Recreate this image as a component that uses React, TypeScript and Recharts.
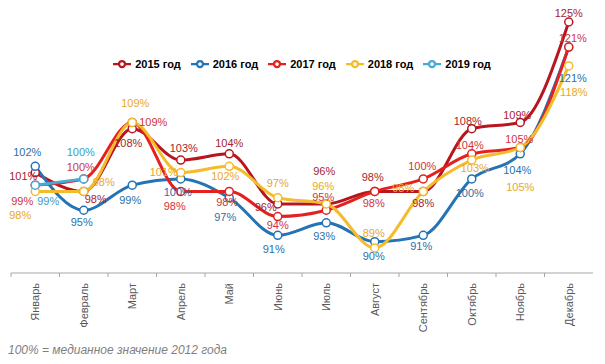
import React from 'react';
import { LineChart, Line, XAxis, YAxis, Legend } from 'recharts';

const months = ['Январь', 'Февраль', 'Март', 'Апрель', 'Май', 'Июнь', 'Июль', 'Август', 'Сентябрь', 'Октябрь', 'Ноябрь', 'Декабрь'];
const y2015 = [101, 98, 108, 103, 104, 96, 96, 98, 98, 108, 109, 125];
const y2016 = [102, 95, 99, 100, 97, 91, 93, 90, 91, 100, 104, 121];
const y2017 = [99, 100, 109, 98, 98, 94, 95, 98, 100, 104, 105, 121];
const y2018 = [98, 98, 109, 101, 102, 97, 96, 89, 98, 103, 105, 118];
const y2019 = [99, 100];

// label nudges [dx, dy] per point, to keep the labels where the original put them
const off2015 = [[-12, 4], [12, 8], [-4, 14], [3, -12], [0, -11], [-12, 3], [-2, -33], [-2, -14], [0, 12], [-4, -8], [-3, -7], [0, -9]];
const off2016 = [[-8, -14], [-2, 12], [-2, 15], [-3, 13], [-4, 19], [-4, 14], [-2, 13], [-1, 15], [-2, 11], [-2, 14], [-3, 16], [4, 31]];
const off2017 = [[-13, 16], [-3, -12], [21, 0], [-6, 15], [-2, 11], [0, 9], [-3, -13], [-1, 12], [-1, -13], [-2, -9], [-1, -8], [4, -9]];
const off2018 = [[-15, 24], [20, -9], [3, -19], [-17, 0], [-4, 10], [0, -15], [-3, -18], [-1, -15], [-20, -3], [3, 8], [0, 40], [5, 26]];
const off2019 = [[13, 16], [-3, -27]];

const data = months.map((m, i) => ({
  month: m,
  y2015: y2015[i],
  y2016: y2016[i],
  y2017: y2017[i],
  y2018: y2018[i],
  y2019: i < y2019.length ? y2019[i] : null,
}));

const W = 597;
const H = 330;
const M = { top: 14, right: 12, left: 3, bottom: 5 };
const band = (W - M.left - M.right) / 12;
const font = "Arial, 'Liberation Sans', sans-serif";

const makeLabel = (offs: number[][], color: string) => (p: any) => {
  if (p.value == null || p.index == null) return null;
  const [dx, dy] = offs[p.index] || [0, -12];
  return (
    <text x={p.x + dx} y={p.y + dy} dy="0.35em" textAnchor="middle" fill={color} fontSize={11} fontFamily={font}>
      {p.value}%
    </text>
  );
};

const MonthTick = (p: any) => {
  const { x, y, payload } = p;
  const ay = y - 10;
  return (
    <g>
      <line x1={x - band / 2} x2={x - band / 2} y1={ay} y2={ay + 4} stroke="#A6A6A6" />
      <text x={x} y={y} transform={`rotate(-90, ${x}, ${y})`} textAnchor="end" dy="0.35em" fill="#595959" fontSize={11} fontFamily={font}>
        {payload.value}
      </text>
    </g>
  );
};

const series = [
  { key: 'y2015', name: '2015 год', color: '#B8161E', label: '#A8232B', offs: off2015 },
  { key: 'y2016', name: '2016 год', color: '#2474B5', label: '#2E6FA8', offs: off2016 },
  { key: 'y2017', name: '2017 год', color: '#E3211E', label: '#D0343A', offs: off2017 },
  { key: 'y2018', name: '2018 год', color: '#F4BC2B', label: '#E8A825', offs: off2018 },
  { key: 'y2019', name: '2019 год', color: '#45AAD8', label: '#3D9CC8', offs: off2019 },
];

export default function App() {
  return (
    <div style={{ position: 'relative', width: W, height: 356, fontFamily: font }}>
      <LineChart width={W} height={H} data={data} margin={M}>
        <XAxis
          dataKey="month"
          interval={0}
          tickLine={false}
          tickSize={0}
          tickMargin={10}
          height={60}
          padding={{ left: band / 2, right: band / 2 }}
          axisLine={{ stroke: '#A6A6A6' }}
          tick={<MonthTick />}
        />
        <YAxis hide domain={[85, 125]} />
        <Legend
          layout="horizontal"
          verticalAlign="middle"
          align="center"
          iconSize={18}
          wrapperStyle={{ top: 46, left: 8 }}
          formatter={(v: string) => (
            <span style={{ color: '#000', fontWeight: 'bold', fontSize: 11 }}>{v}</span>
          )}
        />
        {series.map((s) => (
          <Line
            key={s.key}
            dataKey={s.key}
            name={s.name}
            type="monotone"
            stroke={s.color}
            strokeWidth={3}
            legendType="line"
            dot={{ r: 4, fill: '#fff', stroke: s.color, strokeWidth: 1.5 }}
            activeDot={false}
            label={makeLabel(s.offs, s.label)}
            isAnimationActive={false}
          />
        ))}
      </LineChart>
      <div style={{ position: 'absolute', left: 0, top: 335, fontSize: 12, lineHeight: '14px', fontStyle: 'italic', color: '#7F7F7F' }}>
        100% = медианное значение 2012 года
      </div>
    </div>
  );
}
